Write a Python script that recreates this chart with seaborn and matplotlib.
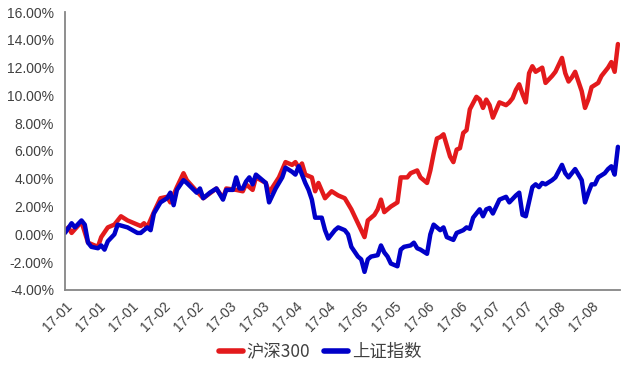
import numpy as np
import pandas as pd
import matplotlib
matplotlib.use('Agg')
import matplotlib.pyplot as plt
import seaborn as sns

# trading day index (every 10 days gets a label) and cumulative return in %
day_hs300 = [0, 1, 2, 5, 7, 10, 11, 13, 15, 17, 19, 23, 24, 25, 27, 29, 31, 32, 34, 36,
             37, 40, 42, 46, 48, 49, 52, 54, 55, 57, 58, 61, 62, 65, 67, 69, 70, 71, 72, 73,
             75, 76, 77, 79, 81, 83, 85, 87, 89, 91, 92, 94, 95, 96, 97, 99, 101, 102, 104, 105,
             107, 108, 110, 111, 112, 113, 114, 115, 117, 118, 119, 120, 121, 122, 123, 125, 126, 127, 128, 129,
             130, 132, 134, 135, 136, 137, 138, 139, 140, 141, 142, 143, 145, 146, 148, 149, 151, 152, 153, 154,
             155, 157, 158, 159, 160, 162, 163, 164, 165, 166, 167, 168]
ret_hs300 = [0.2, 0.5, 0.1, 0.9, -0.6, -0.9, -0.2, 0.5, 0.7, 1.3, 1.0, 0.6, 0.8, 0.5, 1.6, 2.6, 2.7, 2.3, 3.4, 4.4,
             3.9, 3.1, 2.6, 3.3, 2.6, 3.3, 3.2, 3.1, 3.6, 3.2, 4.1, 3.7, 3.0, 4.1, 5.2, 5.0, 5.2, 4.8, 5.1, 4.3,
             4.1, 3.1, 3.7, 2.6, 3.1, 2.8, 2.6, 1.8, 0.8, -0.2, 1.0, 1.4, 1.8, 2.5, 1.6, 2.0, 2.3, 4.1, 4.1, 4.4,
             4.6, 4.1, 3.7, 4.6, 5.8, 6.9, 7.0, 7.2, 5.6, 5.2, 6.1, 6.2, 7.3, 7.5, 9.0, 9.9, 9.7, 9.1, 9.7, 9.3,
             8.4, 9.5, 9.3, 9.5, 9.8, 10.4, 10.8, 10.1, 9.5, 11.6, 12.1, 11.7, 12.0, 10.9, 11.4, 11.7, 12.7, 11.6, 11.0, 11.3,
             11.7, 10.3, 9.1, 9.7, 10.6, 10.9, 11.4, 11.7, 12.0, 12.4, 11.7, 13.7]

day_sh = [0, 2, 3, 5, 6, 7, 8, 10, 11, 12, 13, 15, 16, 19, 22, 23, 25, 26, 27, 29,
          31, 32, 33, 34, 36, 37, 40, 41, 42, 44, 46, 48, 49, 51, 52, 53, 54, 55, 56, 57,
          58, 59, 61, 62, 64, 66, 67, 69, 70, 71, 72, 73, 74, 75, 76, 78, 79, 80, 82, 83,
          85, 86, 87, 89, 90, 91, 92, 93, 95, 96, 97, 98, 99, 101, 102, 103, 105, 106, 107, 108,
          110, 111, 112, 114, 115, 116, 118, 119, 121, 122, 123, 124, 126, 127, 128, 129, 130, 132, 134, 135,
          137, 138, 139, 140, 142, 143, 144, 145, 146, 148, 149, 151, 152, 153, 154, 155, 157, 158, 159, 160,
          161, 162, 164, 165, 166, 167, 168]
ret_sh = [0.1, 0.8, 0.5, 1.0, 0.7, -0.6, -0.9, -1.0, -0.8, -1.1, -0.5, 0.0, 0.7, 0.5, 0.1, 0.1, 0.5, 0.3, 1.5, 2.3,
          2.6, 3.0, 2.1, 3.2, 3.9, 3.7, 3.0, 3.3, 2.6, 3.0, 3.3, 2.5, 3.2, 3.2, 4.1, 3.3, 3.3, 3.8, 4.1, 3.6,
          4.3, 4.1, 3.7, 2.3, 3.3, 4.1, 4.8, 4.5, 4.3, 4.9, 4.3, 3.7, 3.2, 2.5, 1.2, 1.2, 0.3, -0.3, 0.3, 0.5,
          0.3, 0.0, -0.9, -1.6, -1.8, -2.7, -1.8, -1.6, -1.5, -0.8, -1.3, -1.6, -2.1, -2.3, -1.1, -0.9, -0.8, -0.6, -1.0, -1.1,
          -1.4, 0.0, 0.7, 0.3, 0.5, -0.2, -0.4, 0.1, 0.3, 0.5, 0.4, 1.2, 1.8, 1.3, 1.8, 1.9, 1.5, 2.5, 2.7, 2.3,
          2.8, 3.0, 1.4, 1.3, 3.4, 3.6, 3.4, 3.7, 3.6, 3.9, 4.1, 5.0, 4.4, 4.1, 4.4, 4.7, 3.9, 2.3, 3.0, 3.6,
          3.6, 4.1, 4.4, 4.7, 4.9, 4.3, 6.3]

tick_days = list(range(0, 161, 10))
tick_labels = ['17-01', '17-01', '17-01', '17-02', '17-02', '17-03', '17-03', '17-04', '17-04',
               '17-05', '17-05', '17-06', '17-06', '17-07', '17-07', '17-08', '17-08']
y_ticks = [-4, -2, 0, 2, 4, 6, 8, 10, 12, 14, 16]

series_names = ['沪深300', '上证指数']
series_colors = ['#E31A1C', '#0000C8']

df = pd.concat([
    pd.DataFrame({'day': day_hs300, 'ret': ret_hs300, 'index': series_names[0]}),
    pd.DataFrame({'day': day_sh, 'ret': ret_sh, 'index': series_names[1]}),
])

sns.set_style('white')
plt.rcParams['font.family'] = ['Liberation Sans', 'Noto Sans CJK SC', 'DejaVu Sans']

fig = plt.figure(figsize=(6.4, 3.77), dpi=100)
ax = fig.add_axes([0.1016, 0.231, 0.867, 0.737])

sns.lineplot(data=df, x='day', y='ret', hue='index', palette=series_colors,
             linewidth=3.2, ax=ax, sort=True)
for ln in ax.get_lines():
    ln.set_solid_joinstyle('round')

ax.set_xlim(0, 168.6)
ax.set_ylim(-4, 16)
ax.set_xticks(tick_days)
ax.set_xticklabels(tick_labels, rotation=45, ha='right', rotation_mode='anchor')
ax.set_yticks(y_ticks)
ax.set_yticklabels(['%.2f%%' % v for v in y_ticks])
ax.set_xlabel('')
ax.set_ylabel('')

for side in ['top', 'right']:
    ax.spines[side].set_visible(False)
for side in ['left', 'bottom']:
    ax.spines[side].set_color('#868686')
    ax.spines[side].set_linewidth(1.3)
ax.tick_params(axis='both', colors='#868686', labelcolor='#404040', labelsize=10,
               direction='out', length=4.5, width=1.3)
ax.tick_params(axis='x', pad=2)

handles, labels = ax.get_legend_handles_labels()
ax.get_legend().remove()
fig.legend(handles, labels, loc='center', bbox_to_anchor=(0.5, 0.066), ncol=2,
           frameon=False, handlelength=1.4, columnspacing=0.8, handletextpad=0.2,
           prop={'family': ['Noto Sans CJK SC', 'DejaVu Sans'], 'size': 12.5},
           labelcolor='#404040')
for h in fig.legends[0].get_lines():
    h.set_linewidth(4)

fig.savefig('out.png', dpi=100)
